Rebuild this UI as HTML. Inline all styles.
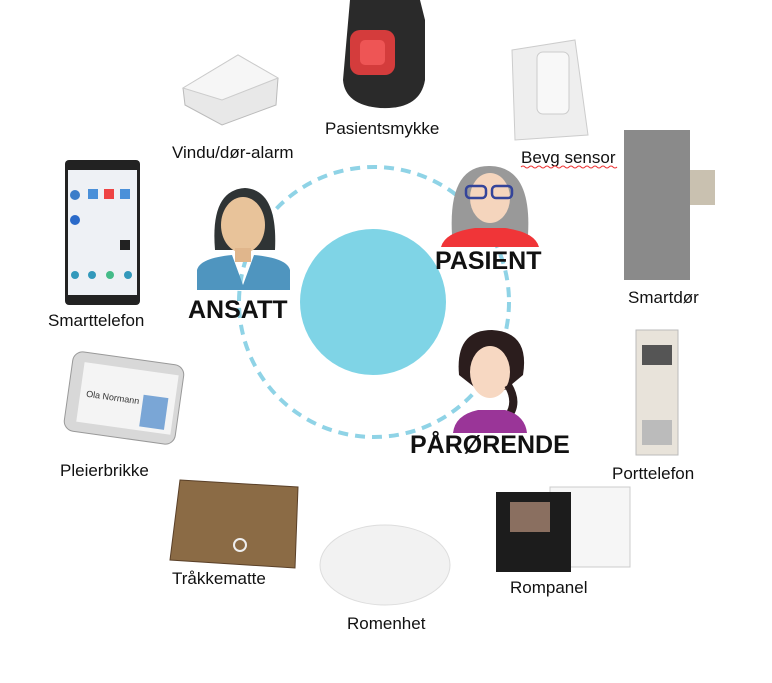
<!DOCTYPE html>
<html><head><meta charset="utf-8"><style>
body{margin:0;background:#fff;}
svg{display:block;}
text{font-family:"Liberation Sans",Arial,sans-serif;}
</style></head><body>
<svg width="772" height="683" viewBox="0 0 772 683" xmlns="http://www.w3.org/2000/svg">
<circle cx="374" cy="302" r="135" fill="none" stroke="#8fd3e6" stroke-width="4" stroke-dasharray="10 7"/>
<circle cx="373" cy="302" r="73" fill="#7fd4e6"/>

<g>
<path d="M215 250 Q210 190 245 188 Q278 190 275 250 Z" fill="#2f3435"/>
<ellipse cx="243" cy="225" rx="22" ry="28" fill="#e8c39a"/>
<rect x="235" y="248" width="16" height="14" fill="#e0b68c"/>
<path d="M197 290 L197 270 Q200 258 232 255 L243 285 L254 255 Q287 258 290 270 L290 290 Z" fill="#4f95bf"/>
</g>
<text x="188" y="318" font-size="25" font-weight="bold" fill="#111">ANSATT</text>

<g>
<path d="M452 235 Q448 165 490 166 Q532 167 528 235 Z" fill="#999"/>
<ellipse cx="490" cy="198" rx="20" ry="25" fill="#f5d5bd"/>
<rect x="466" y="186" width="20" height="12" rx="4" fill="none" stroke="#34449a" stroke-width="2.5"/>
<rect x="492" y="186" width="20" height="12" rx="4" fill="none" stroke="#34449a" stroke-width="2.5"/>
<path d="M441 247 Q445 232 475 228 L505 228 Q535 232 539 247 Z" fill="#f03538"/>
</g>
<text x="435" y="269" font-size="25" font-weight="bold" fill="#111">PASIENT</text>

<g>
<path d="M459 375 Q455 330 492 330 Q530 332 523 375 L505 390 L478 390 Z" fill="#2b1d1d"/>
<ellipse cx="490" cy="372" rx="20" ry="26" fill="#f7d8c2"/>
<path d="M508 385 Q520 405 505 420" stroke="#2b1d1d" stroke-width="8" fill="none"/>
<path d="M453 433 Q455 415 478 410 L505 410 Q525 415 527 433 Z" fill="#9a3598"/>
</g>
<text x="410" y="453" font-size="25" font-weight="bold" fill="#111">PÅRØRENDE</text>

<rect x="65" y="160" width="75" height="145" rx="4" fill="#222"/>
<rect x="68" y="170" width="69" height="125" fill="#eef1f5"/>
<circle cx="75" cy="195" r="5" fill="#3a7dc9"/><rect x="88" y="189" width="10" height="10" fill="#4a90d9"/><rect x="104" y="189" width="10" height="10" fill="#e44"/><rect x="120" y="189" width="10" height="10" fill="#4a90d9"/>
<circle cx="75" cy="220" r="5" fill="#2a6ac9"/><rect x="120" y="240" width="10" height="10" fill="#222"/>
<circle cx="75" cy="275" r="4" fill="#39b"/><circle cx="92" cy="275" r="4" fill="#39b"/><circle cx="110" cy="275" r="4" fill="#4b8"/><circle cx="128" cy="275" r="4" fill="#39b"/>
<text x="48" y="326" font-size="17" fill="#111">Smarttelefon</text>

<polygon points="183,88 238,55 278,78 276,105 222,125 185,105" fill="#e8e8e8" stroke="#bbb"/>
<polygon points="183,88 238,55 278,78 222,100" fill="#f6f6f6" stroke="#ccc"/>
<text x="172" y="158" font-size="17" fill="#111">Vindu/dør-alarm</text>

<path d="M350 0 L420 0 L425 20 L425 80 Q420 110 380 108 Q345 105 343 80 Z" fill="#2a2a2a"/>
<rect x="350" y="30" width="45" height="45" rx="10" fill="#d43c3c"/>
<rect x="360" y="40" width="25" height="25" rx="5" fill="#ee5555"/>
<text x="325" y="134" font-size="17" fill="#111">Pasientsmykke</text>

<polygon points="512,50 575,40 588,135 515,140" fill="#eeeeee" stroke="#ccc"/>
<rect x="537" y="52" width="32" height="62" rx="6" fill="#f8f8f8" stroke="#ccc"/>
<text x="521" y="163" font-size="17" fill="#111">Bevg sensor</text>
<path d="M521 167 q2 -2 4 0 t4 0 t4 0 t4 0 t4 0 t4 0 t4 0 t4 0 t4 0 t4 0 t4 0 t4 0 t4 0 t4 0 t4 0 t4 0 t4 0 t4 0 t4 0 t4 0 t4 0 t4 0 t4 0 t4 0" stroke="#e33" stroke-width="1" fill="none"/>

<rect x="624" y="130" width="66" height="150" fill="#8a8a8a"/>
<rect x="690" y="170" width="25" height="35" fill="#c9c1b0"/>
<text x="628" y="303" font-size="17" fill="#111">Smartdør</text>

<rect x="68" y="358" width="112" height="80" rx="10" fill="#d8d8d8" stroke="#999" transform="rotate(8 124 398)"/>
<rect x="80" y="368" width="95" height="60" fill="#f4f4f4" transform="rotate(8 124 398)"/>
<rect x="143" y="392" width="25" height="32" fill="#7aa6d6" transform="rotate(8 124 398)"/>
<text x="86" y="402" font-size="9" fill="#333" transform="rotate(8 124 398)">Ola Normann</text>
<text x="60" y="476" font-size="17" fill="#111">Pleierbrikke</text>

<rect x="636" y="330" width="42" height="125" fill="#e8e3da" stroke="#bbb"/>
<rect x="642" y="345" width="30" height="20" fill="#555"/>
<rect x="642" y="420" width="30" height="25" fill="#bbb"/>
<text x="612" y="479" font-size="17" fill="#111">Porttelefon</text>

<polygon points="180,480 298,487 295,568 170,560" fill="#8b6b45" stroke="#5a4028"/>
<circle cx="240" cy="545" r="6" fill="none" stroke="#eee" stroke-width="2"/>
<text x="172" y="584" font-size="17" fill="#111">Tråkkematte</text>

<ellipse cx="385" cy="565" rx="65" ry="40" fill="#f2f2f2" stroke="#ddd"/>
<text x="347" y="629" font-size="17" fill="#111">Romenhet</text>

<rect x="550" y="487" width="80" height="80" fill="#f6f6f6" stroke="#ccc"/>
<rect x="496" y="492" width="75" height="80" fill="#1c1c1c"/>
<rect x="510" y="502" width="40" height="30" fill="#8a6f60"/>
<text x="510" y="593" font-size="17" fill="#111">Rompanel</text>
</svg>
</body></html>
